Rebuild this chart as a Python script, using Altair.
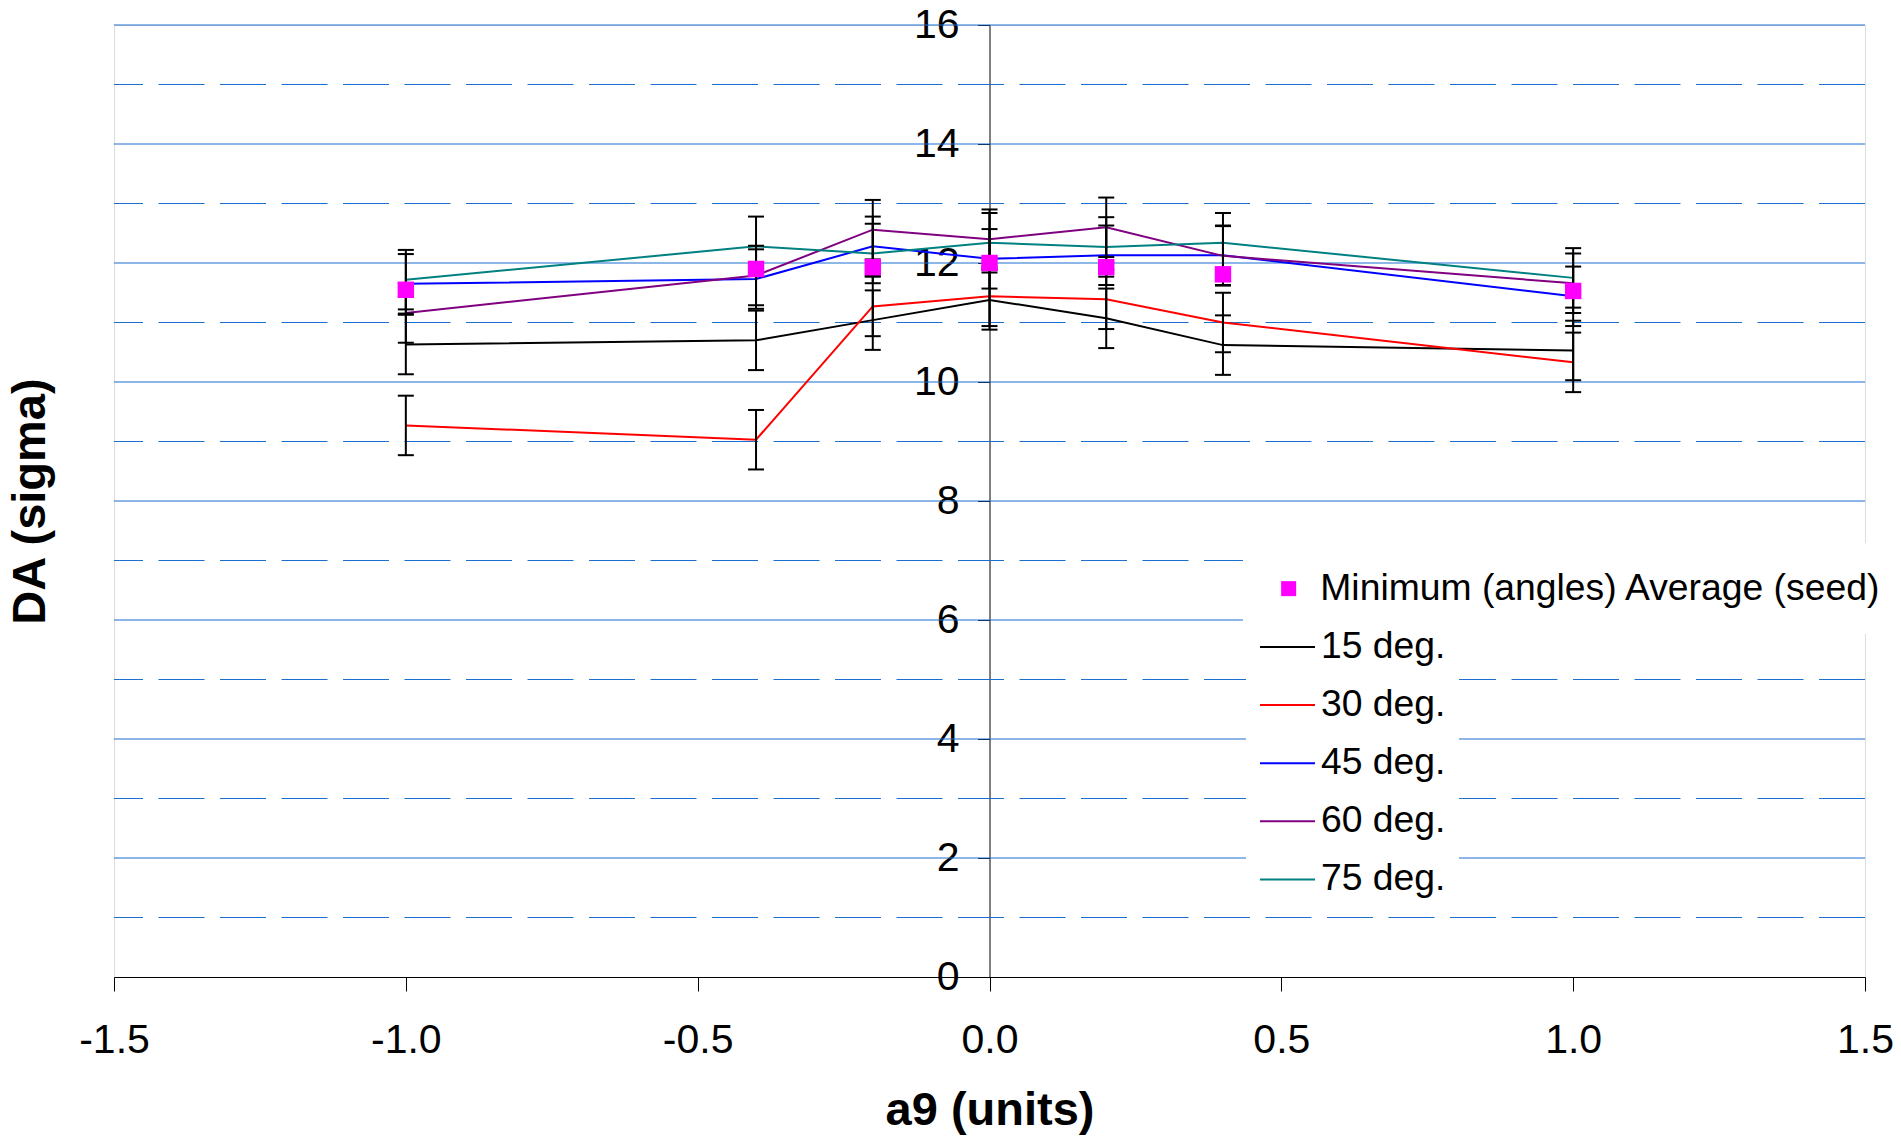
import altair as alt
import pandas as pd

# ---------------- data ----------------
X_VALUES = [-1.0, -0.4, -0.2, 0.0, 0.2, 0.4, 1.0]

SERIES_NAMES = ["15 deg.", "30 deg.", "45 deg.", "60 deg.", "75 deg."]
SERIES_COLORS = ["#000000", "#FF0000", "#0000FF", "#800080", "#008080"]
DA_15 = [10.63, 10.70, 11.04, 11.38, 11.07, 10.62, 10.53]
DA_30 = [9.27, 9.03, 11.27, 11.44, 11.39, 11.00, 10.33]
DA_45 = [11.65, 11.73, 12.28, 12.07, 12.13, 12.13, 11.44]
DA_60 = [11.16, 11.79, 12.56, 12.40, 12.60, 12.12, 11.66]
DA_75 = [11.72, 12.28, 12.16, 12.34, 12.27, 12.34, 11.75]
SERIES_ERR = [0.5, 0.5, 0.5, 0.5, 0.5]

MIN_AVG_NAME = "Minimum (angles) Average (seed)"
MIN_AVG_COLOR = "#FF00FF"
MIN_AVG = [11.55, 11.90, 11.93, 12.00, 11.93, 11.81, 11.53]

X_TICKS = [-1.5, -1.0, -0.5, 0.0, 0.5, 1.0, 1.5]
Y_TICKS = [0, 2, 4, 6, 8, 10, 12, 14, 16]
GRID_SOLID = [2, 4, 6, 8, 10, 12, 14, 16]
GRID_DASHED = [1, 3, 5, 7, 9, 11, 13, 15]

# ---------------- tables ----------------
rows = []
for name, vals, err in zip(SERIES_NAMES, [DA_15, DA_30, DA_45, DA_60, DA_75], SERIES_ERR):
    for xv, yv in zip(X_VALUES, vals):
        rows.append({"x": xv, "y": yv, "err": err, "series": name})
lines_df = pd.DataFrame(rows)
avg_df = pd.DataFrame({"x": X_VALUES, "y": MIN_AVG, "series": [MIN_AVG_NAME] * len(X_VALUES)})
grid_solid_df = pd.DataFrame({"y": GRID_SOLID})
grid_dashed_df = pd.DataFrame({"y": GRID_DASHED})

# ---------------- layout ----------------
W, H = 1751, 952
FONT = "Liberation Sans"
GRID_COLOR = "#1B6FD1"
NBSP = "\u00a0"

x_scale = alt.Scale(domain=[-1.5, 1.5], nice=False, zero=False)
y_scale = alt.Scale(domain=[0, 16], nice=False, zero=False)

x_axis = alt.Axis(
    values=X_TICKS,
    labelExpr="(datum.value < 0 ? '-' : '') + format(abs(datum.value), '.1f')",
    labelFont=FONT, labelFontSize=41, labelColor="black", labelPadding=29,
    labelFlush=False, labelOverlap=False,
    tickSize=14, tickColor="black", tickWidth=1,
    domainColor="black", domainWidth=1, grid=False,
    titleFont=FONT, titleFontSize=47, titleFontWeight="bold", titleColor="black",
    titleY=147, titleBaseline="alphabetic",
)
y_axis = alt.Axis(
    values=Y_TICKS, offset=-W / 2,
    labelFont=FONT, labelFontSize=41, labelColor="black", labelPadding=18.5,
    labelFlush=False, labelOverlap=False,
    tickSize=12, tickColor="black", tickWidth=1,
    domainColor="black", domainWidth=1, grid=False,
    titleFont=FONT, titleFontSize=47, titleFontWeight="bold", titleColor="black",
    titleAngle=270, titleX=-945, titleY=H / 2, titleBaseline="alphabetic",
)

X = alt.X("x:Q", scale=x_scale, axis=x_axis, title="a9 (units)")


def Y(field):
    return alt.Y(field, scale=y_scale, axis=y_axis, title="DA (sigma)")


grid_solid = alt.Chart(grid_solid_df).mark_rule(color=GRID_COLOR, strokeWidth=1).encode(y=Y("y:Q"))
grid_dashed = alt.Chart(grid_dashed_df).mark_rule(
    color=GRID_COLOR, strokeWidth=1, strokeDash=[46, 15.5]
).encode(y=Y("y:Q"))

lines = alt.Chart(lines_df).mark_line(strokeWidth=2).encode(
    x=X,
    y=Y("y:Q"),
    stroke=alt.Stroke(
        "series:N",
        title=None,
        sort=SERIES_NAMES,
        scale=alt.Scale(domain=SERIES_NAMES, range=SERIES_COLORS),
        legend=alt.Legend(
            orient="none", legendX=1132, legendY=580.5,
            symbolType="stroke", symbolSize=3025, symbolStrokeWidth=2,
            labelFont=FONT, labelFontSize=37.3, labelColor="black",
            labelOffset=5, labelLimit=2000,
            labelExpr="pad(datum.label, 56, '" + NBSP + "')",
            fillColor="white", padding=13, rowPadding=11.1, zindex=2,
        ),
    ),
    order=alt.Order("x:Q"),
)

err_base = alt.Chart(lines_df).transform_calculate(
    lo="datum.y - datum.err", hi="datum.y + datum.err"
)
err_rules = err_base.mark_rule(color="black", strokeWidth=2).encode(
    x=X, y=Y("lo:Q"), y2="hi:Q"
)
err_cap_lo = err_base.mark_tick(color="black", orient="horizontal", size=16, thickness=2, opacity=1).encode(
    x=X, y=Y("lo:Q")
)
err_cap_hi = err_base.mark_tick(color="black", orient="horizontal", size=16, thickness=2, opacity=1).encode(
    x=X, y=Y("hi:Q")
)

points = alt.Chart(avg_df).mark_square(size=270, opacity=1, filled=True).encode(
    x=X,
    y=Y("y:Q"),
    fill=alt.Fill(
        "series:N",
        title=None,
        scale=alt.Scale(domain=[MIN_AVG_NAME], range=[MIN_AVG_COLOR]),
        legend=alt.Legend(
            orient="none", legendX=1129, legendY=518,
            symbolType="square", symbolSize=225, symbolOpacity=1, symbolStrokeWidth=0,
            labelFont=FONT, labelFontSize=37.3, labelColor="black",
            labelOffset=13, labelLimit=2000,
            fillColor="white", padding=27, zindex=1,
        ),
    ),
)

chart = alt.layer(
    grid_solid, grid_dashed, lines, err_rules, err_cap_lo, err_cap_hi, points
).properties(
    width=W, height=H,
    autosize=alt.AutoSizeParams(type="none"),
    padding={"left": 106, "top": 17, "right": 28, "bottom": 160},
).configure_view(stroke="transparent", strokeWidth=0).configure(font=FONT)

chart.save("out.html", embed_options={"renderer": "svg", "actions": False})
